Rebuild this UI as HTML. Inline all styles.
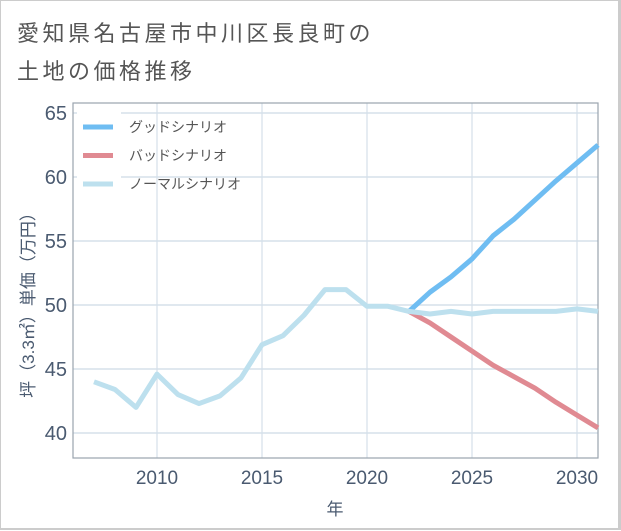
<!DOCTYPE html>
<html><head><meta charset="utf-8"><style>
body{margin:0;background:#fff;font-family:"Liberation Sans","Noto Sans CJK JP",sans-serif;}
#wrap{position:relative;border:1px solid #ccc;border-right:3px solid #ccc;border-bottom:2px solid #ccc;box-sizing:border-box;width:621px;height:530px;}
.title{position:absolute;left:16px;font-size:22px;letter-spacing:3.5px;color:#555;}
</style></head><body>
<div id="wrap">
<div class="title" style="top:15px">愛知県名古屋市中川区長良町の</div>
<div class="title" style="top:53px">土地の価格推移</div>
<svg id="chart" width="621" height="530" style="position:absolute;left:0;top:0"></svg>
</div>
<script>
const years=[2007,2008,2009,2010,2011,2012,2013,2014,2015,2016,2017,2018,2019,2020,2021,2022,2023,2024,2025,2026,2027,2028,2029,2030,2031];
const normalValues=[44.0,43.4,42.0,44.6,43.0,42.3,42.9,44.3,46.9,47.6,49.2,51.2,51.2,49.9,49.9,49.5,49.3,49.5,49.3,49.5,49.5,49.5,49.5,49.7,49.5];
const goodYears=[2022,2023,2024,2025,2026,2027,2028,2029,2030,2031];
const goodValues=[49.5,51.0,52.2,53.6,55.4,56.7,58.2,59.7,61.1,62.5];
const badValues=[49.5,48.6,47.5,46.4,45.3,44.4,43.5,42.4,41.4,40.4];
const xTicks=[2010,2015,2020,2025,2030];
const yTicks=[40,45,50,55,60,65];
const L=72,R=597,T=102,B=457;
const x=v=>93+(v-2007)*21;
const y=v=>432-(v-40)*12.8;
const svg=document.getElementById('chart');
const NS='http://www.w3.org/2000/svg';
function mk(tag,attrs){const e=document.createElementNS(NS,tag);for(const k in attrs)e.setAttribute(k,attrs[k]);svg.appendChild(e);return e;}
yTicks.forEach(t=>{
 const g=mk('line',{x1:L,x2:R,y1:y(t),y2:y(t),stroke:'#d5e0ea','stroke-width':1.5});
 
 
 const tx=mk('text',{x:L-6,y:y(t)+7,'text-anchor':'end','font-size':20,fill:'#4a5a70'});
 tx.textContent=t;
 
 
});
xTicks.forEach(t=>{
 const g=mk('line',{x1:x(t),x2:x(t),y1:T,y2:B,stroke:'#d5e0ea','stroke-width':1.2});
 
 
 const tx=mk('text',{x:x(t),y:B+26,'text-anchor':'middle','font-size':19,fill:'#4a5a70'});
 tx.textContent=t;
 
 
});
const fr=mk('rect',{x:L,y:T,width:R-L,height:B-T,fill:'none',stroke:'#9aa4ae','stroke-width':1.2});


function line(xs,vs,color,name){
 const p=mk('polyline',{points:xs.map((v,i)=>x(v)+','+y(vs[i])).join(' '),fill:'none',stroke:color,'stroke-width':5,'stroke-linejoin':'round'});
 
 
}
line(goodYears,badValues,'#e08a92','bad-scenario-line');
line(goodYears,goodValues,'#6fbdf2','good-scenario-line');
line(years,normalValues,'#bde0ee','normal-scenario-line');
const leg=mk('rect',{x:76,y:108,width:44,height:90,fill:'#fff'});


[['グッドシナリオ','#6fbdf2'],['バッドシナリオ','#e08a92'],['ノーマルシナリオ','#bde0ee']].forEach((d,i)=>{
 const yy=126+i*28.5;
 const l=mk('line',{x1:82,x2:112,y1:yy,y2:yy,stroke:d[1],'stroke-width':5});
 
 
 const t=mk('text',{x:128,y:yy+5,'font-size':14,fill:'#555'});
 t.textContent=d[0];
 
 
});
const yt=mk('text',{transform:'translate(33,300) rotate(-90)','text-anchor':'middle','font-size':17,fill:'#4a5a70'});
yt.textContent='坪（3.3㎡）単価（万円）';


const xt=mk('text',{x:334,y:514,'text-anchor':'middle','font-size':17,fill:'#4a5a70'});
xt.textContent='年';


</script>
</body></html>
